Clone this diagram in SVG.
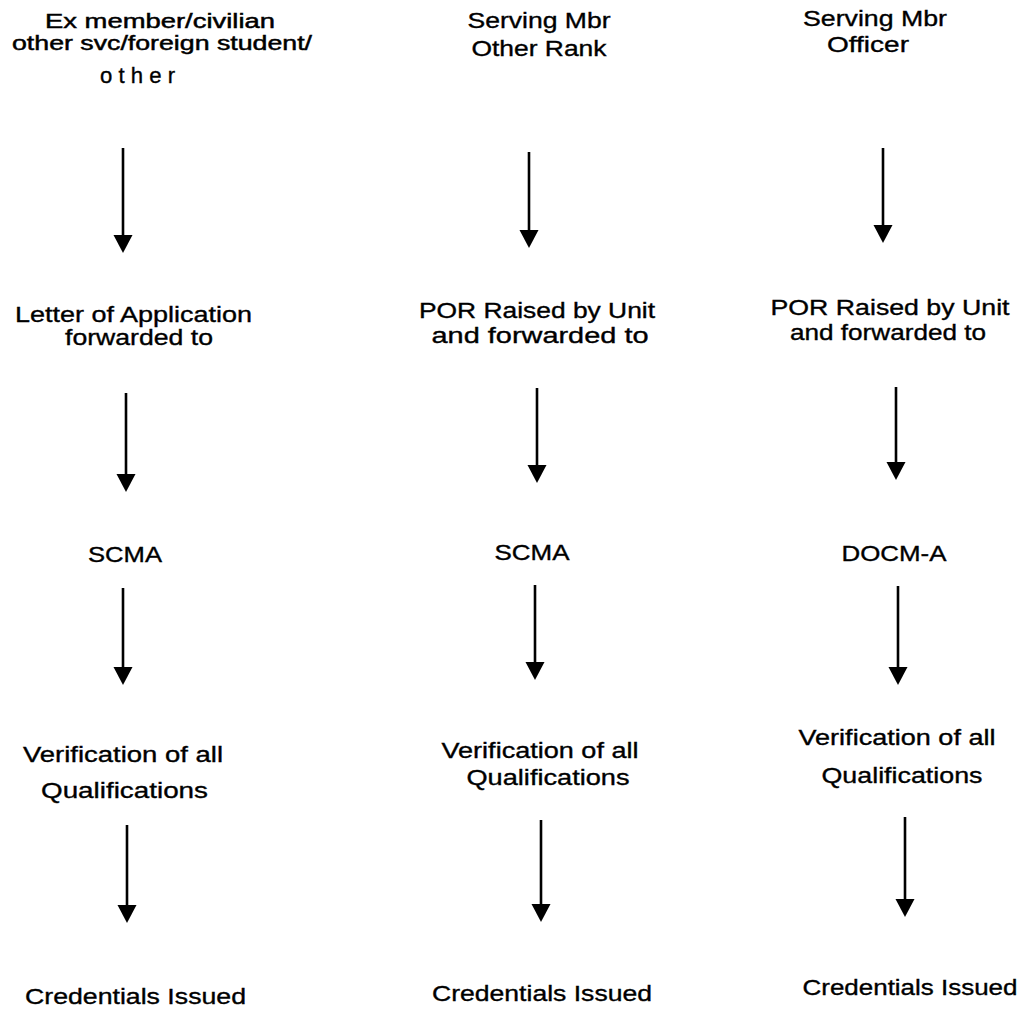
<svg xmlns="http://www.w3.org/2000/svg" width="1022" height="1010" viewBox="0 0 1022 1010">
<style>
text{font-family:"Liberation Sans",Arial,sans-serif;font-size:22px;fill:#000;stroke:#000;stroke-width:0.35;text-anchor:middle}
text.t{font-size:19.5px;stroke-width:0.45}
.c{stroke:#000;stroke-width:2.6;fill:none}
</style>
<defs>
<marker id="ah" viewBox="0 -10 19 20" refX="0" refY="0" markerWidth="19" markerHeight="20" markerUnits="userSpaceOnUse" orient="auto">
<path d="M0,-9.5 L18,0 L0,9.5 Z" fill="#000"/>
</marker>
</defs>
<rect width="1022" height="1010" fill="#fff"/>
<g id="connectors">
<line class="c" x1="123" y1="148" x2="123" y2="235" marker-end="url(#ah)"/>
<line class="c" x1="126" y1="393" x2="126" y2="474" marker-end="url(#ah)"/>
<line class="c" x1="123" y1="588" x2="123" y2="667" marker-end="url(#ah)"/>
<line class="c" x1="127" y1="825" x2="127" y2="905" marker-end="url(#ah)"/>
<line class="c" x1="529" y1="152" x2="529" y2="230" marker-end="url(#ah)"/>
<line class="c" x1="537" y1="388" x2="537" y2="465" marker-end="url(#ah)"/>
<line class="c" x1="535" y1="585" x2="535" y2="662" marker-end="url(#ah)"/>
<line class="c" x1="541" y1="820" x2="541" y2="904" marker-end="url(#ah)"/>
<line class="c" x1="883" y1="148" x2="883" y2="225" marker-end="url(#ah)"/>
<line class="c" x1="896" y1="387" x2="896" y2="462" marker-end="url(#ah)"/>
<line class="c" x1="898" y1="586" x2="898" y2="667" marker-end="url(#ah)"/>
<line class="c" x1="905" y1="817" x2="905" y2="899" marker-end="url(#ah)"/>
</g>
<g id="c1-start">
<text class="t" x="160" y="28" textLength="230" lengthAdjust="spacingAndGlyphs">Ex member/civilian</text>
<text class="t" x="162" y="50" textLength="300" lengthAdjust="spacingAndGlyphs">other svc/foreign student/</text>
<text x="137.5" y="83" textLength="75" lengthAdjust="spacingAndGlyphs">o t h e r</text>
</g>
<g id="c1-letter">
<text x="133.5" y="322" textLength="237" lengthAdjust="spacingAndGlyphs">Letter of Application</text>
<text x="139" y="345" textLength="148" lengthAdjust="spacingAndGlyphs">forwarded to</text>
</g>
<g id="c1-scma"><text x="125" y="562" textLength="74" lengthAdjust="spacingAndGlyphs">SCMA</text></g>
<g id="c1-verify">
<text x="123" y="762" textLength="200" lengthAdjust="spacingAndGlyphs">Verification of all</text>
<text x="124.5" y="798" textLength="167" lengthAdjust="spacingAndGlyphs">Qualifications</text>
</g>
<g id="c1-cred"><text x="135.5" y="1004" textLength="221" lengthAdjust="spacingAndGlyphs">Credentials Issued</text></g>
<g id="c2-start">
<text x="539" y="28" textLength="143" lengthAdjust="spacingAndGlyphs">Serving Mbr</text>
<text x="539" y="56" textLength="135" lengthAdjust="spacingAndGlyphs">Other Rank</text>
</g>
<g id="c2-por">
<text x="537" y="318" textLength="236" lengthAdjust="spacingAndGlyphs">POR Raised by Unit</text>
<text x="540" y="343" textLength="217" lengthAdjust="spacingAndGlyphs">and forwarded to</text>
</g>
<g id="c2-scma"><text x="532" y="560" textLength="75" lengthAdjust="spacingAndGlyphs">SCMA</text></g>
<g id="c2-verify">
<text x="540" y="758" textLength="197" lengthAdjust="spacingAndGlyphs">Verification of all</text>
<text x="548" y="785" textLength="163" lengthAdjust="spacingAndGlyphs">Qualifications</text>
</g>
<g id="c2-cred"><text x="542" y="1001" textLength="220" lengthAdjust="spacingAndGlyphs">Credentials Issued</text></g>
<g id="c3-start">
<text x="875" y="26" textLength="144" lengthAdjust="spacingAndGlyphs">Serving Mbr</text>
<text x="868" y="52" textLength="82" lengthAdjust="spacingAndGlyphs">Officer</text>
</g>
<g id="c3-por">
<text x="890" y="315" textLength="239" lengthAdjust="spacingAndGlyphs">POR Raised by Unit</text>
<text x="888" y="340" textLength="196" lengthAdjust="spacingAndGlyphs">and forwarded to</text>
</g>
<g id="c3-docm"><text x="894" y="561" textLength="105" lengthAdjust="spacingAndGlyphs">DOCM-A</text></g>
<g id="c3-verify">
<text x="897" y="745" textLength="197" lengthAdjust="spacingAndGlyphs">Verification of all</text>
<text x="902" y="783" textLength="161" lengthAdjust="spacingAndGlyphs">Qualifications</text>
</g>
<g id="c3-cred"><text x="910" y="995" textLength="215" lengthAdjust="spacingAndGlyphs">Credentials Issued</text></g>
</svg>
